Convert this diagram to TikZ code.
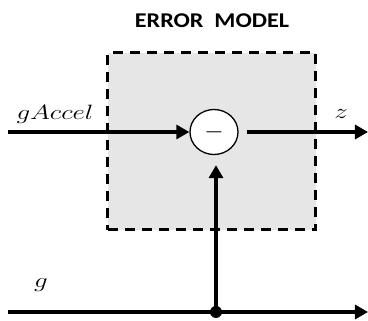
\documentclass[tikz,border=0pt]{standalone}
\usepackage{fontspec}
\newfontfamily\titlefont{Carlito}
\usetikzlibrary{arrows.meta,shapes.geometric}
\definecolor{boxgray}{HTML}{E6E6E6}
\tikzset{
  modelbox/.style={draw, dashed, dash pattern=on 10pt off 7pt, line width=3pt, fill=boxgray},
  sumnode/.style={draw, ellipse, line width=1.3pt, fill=white, minimum width=48pt, minimum height=45pt, inner sep=0pt, font=\fontsize{28}{30}\selectfont},
  sig/.style={line width=3.2pt, -{Triangle[length=13pt,width=14pt]}},
  dotnode/.style={circle, fill=black, minimum size=12pt, inner sep=0pt},
  lbl/.style={font=\fontsize{20}{22}\selectfont, xscale=1.3}
}
\begin{document}
\begin{tikzpicture}[x=1pt,y=-1pt]
\useasboundingbox (0,0) rectangle (368,321);
% Error model block
\node[modelbox, minimum width=208pt, minimum height=177pt] (errbox) at (212,141.5) {};
\node[font=\titlefont\bfseries\fontsize{21}{23}\selectfont, xscale=1.15] (title) at (212,21) {ERROR\ \ MODEL};

% Subtraction
\node[sumnode] (sub) at (214,132) {$-$};

% End points
\coordinate (inA) at (8,132);
\coordinate (outZ) at (368,132);
\coordinate (inG) at (8,312);
\coordinate (outG) at (368,312);
\node[dotnode] (tap) at (216,312) {};

% Signals
\draw[sig] (inA) -- (sub);
\draw[sig, shorten <=8pt] (sub) -- (outZ);
\draw[sig] (inG) -- (outG);
\draw[sig, shorten >=10pt] (tap.center) -- (sub.south -| tap);

% Labels
\node[lbl] (lblA) at (55,114) {$gAccel$};
\node[lbl] (lblZ) at (341,114) {$z$};
\node[lbl] (lblG) at (41,285) {$g$};
\end{tikzpicture}
\end{document}
